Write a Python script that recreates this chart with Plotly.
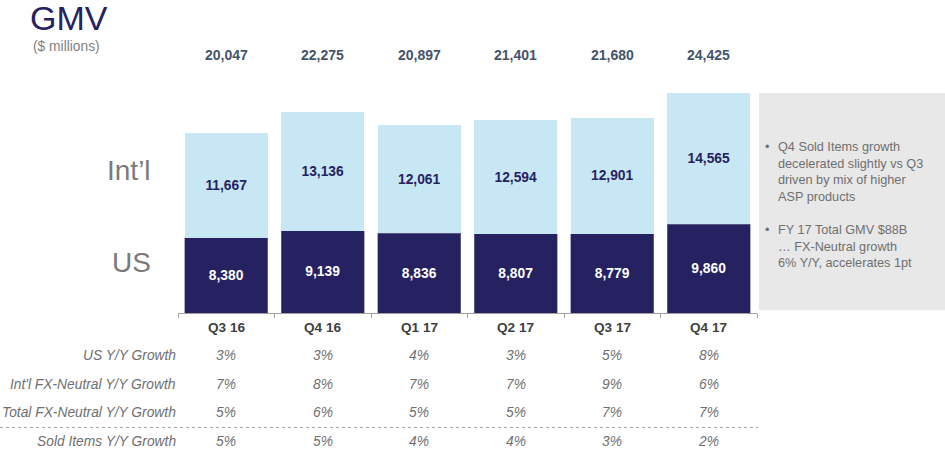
import plotly.graph_objects as go

# ---------------- data ----------------
quarters = ["Q3 16", "Q4 16", "Q1 17", "Q2 17", "Q3 17", "Q4 17"]
us_gmv = [8380, 9139, 8836, 8807, 8779, 9860]
intl_gmv = [11667, 13136, 12061, 12594, 12901, 14565]
total_gmv = [20047, 22275, 20897, 21401, 21680, 24425]

row_labels = ["US Y/Y Growth", "Int'l FX-Neutral Y/Y Growth",
              "Total FX-Neutral Y/Y Growth", "Sold Items Y/Y Growth"]
us_growth = ["3%", "3%", "4%", "3%", "5%", "8%"]
intl_growth = ["7%", "8%", "7%", "7%", "9%", "6%"]
total_growth = ["5%", "6%", "5%", "5%", "7%", "7%"]
sold_items_growth = ["5%", "5%", "4%", "4%", "3%", "2%"]
table_rows = [us_growth, intl_growth, total_growth, sold_items_growth]

bullets = [
    "Q4 Sold Items growth<br>decelerated slightly vs Q3<br>driven by mix of higher<br>ASP products",
    "FY 17 Total GMV $88B<br>… FX-Neutral growth<br>6% Y/Y, accelerates 1pt",
]

# ---------------- layout geometry ----------------
W, H = 945, 456
PL, PR = 178, 757          # plot left/right pixel
PT, PB = 60, 312.7         # plot top/bottom pixel
YMAX = 28100
FONT = "Liberation Sans, Arial, sans-serif"
NAVY = "#262262"
LIGHT = "#c8e7f4"


def fx(p):
    return (p - PL) / (PR - PL)


def fy(p):
    return (PB - p) / (PB - PT)


fig = go.Figure()
fig.add_trace(go.Bar(
    x=quarters, y=us_gmv, name="US", marker=dict(color=NAVY, line=dict(width=0.6, color="#7a7a98")),
    text=us_gmv, texttemplate="<b>%{y:,}</b>", textposition="inside", insidetextanchor="middle",
    textfont=dict(color="white", size=13.8, family=FONT), constraintext="none",
))
fig.add_trace(go.Bar(
    x=quarters, y=intl_gmv, name="Int'l", marker=dict(color=LIGHT, line=dict(width=0)),
    text=intl_gmv, texttemplate="<b>%{y:,}</b>", textposition="inside", insidetextanchor="middle",
    textfont=dict(color=NAVY, size=13.8, family=FONT), constraintext="none",
))

ann = []


def add(x, xref, ypix, text, size, color, xanchor="center", yanchor="middle", align="center"):
    ann.append(dict(x=x, xref=xref, y=fy(ypix), yref="paper", text=text, showarrow=False,
                    xanchor=xanchor, yanchor=yanchor, align=align,
                    font=dict(size=size, color=color, family=FONT)))


# totals
for q, t in zip(quarters, total_gmv):
    add(q, "x", 55, f"<b>{t:,}</b>", 14, "#44546a")
# category labels
for q in quarters:
    add(q, "x", 327, f"<b>{q}</b>", 13.6, "#404040")
# table
row_y = [355, 384, 412, 441]
for lab, vals, ry in zip(row_labels, table_rows, row_y):
    add(0, "paper", ry, f"<i>{lab}</i>", 13.8, "#6f6f6f", xanchor="right")
    for q, v in zip(quarters, vals):
        add(q, "x", ry, f"<i>{v}</i>", 13.8, "#6f6f6f")
# series labels
add(fx(153), "paper", 170, "Int’l", 28, "#7a7a7a", xanchor="right")
add(fx(153), "paper", 262, "US", 28, "#7a7a7a", xanchor="right")
# title
add(fx(28), "paper", 18, "GMV", 34, NAVY, xanchor="left")
add(fx(31), "paper", 46.5, "($ millions)", 13.8, "#7f7f7f", xanchor="left")
# side box bullets
for b, by in zip(bullets, [146, 229]):
    add(fx(763), "paper", by - 8, "•", 12.7, "#6f6f6f", xanchor="left", yanchor="top")
    add(fx(776), "paper", by - 8, b, 12.7, "#6f6f6f", xanchor="left", yanchor="top", align="left")

shapes = [
    dict(type="rect", xref="paper", yref="paper", x0=fx(759), x1=fx(945), y0=fy(310), y1=fy(93),
         fillcolor="#e8e8e8", line=dict(width=0), layer="below"),
    dict(type="line", xref="paper", yref="paper", x0=fx(0), x1=fx(758), y0=fy(427), y1=fy(427),
         line=dict(color="#a0a0a0", width=1, dash="dot")),
]

fig.update_layout(
    width=W, height=H, barmode="stack", bargap=0.14,
    margin=dict(l=PL, r=W - PR, t=PT, b=H - PB, pad=0),
    paper_bgcolor="white", plot_bgcolor="white",
    showlegend=False, annotations=ann, shapes=shapes,
    font=dict(family=FONT),
    xaxis=dict(showticklabels=False, showline=True, linecolor="#a0a0a0", linewidth=1,
               ticks="outside", tickson="boundaries", ticklen=4, tickcolor="#a0a0a0",
               showgrid=False, fixedrange=True),
    yaxis=dict(range=[0, YMAX], visible=False, showgrid=False, fixedrange=True),
)

fig.write_html("out.html")
